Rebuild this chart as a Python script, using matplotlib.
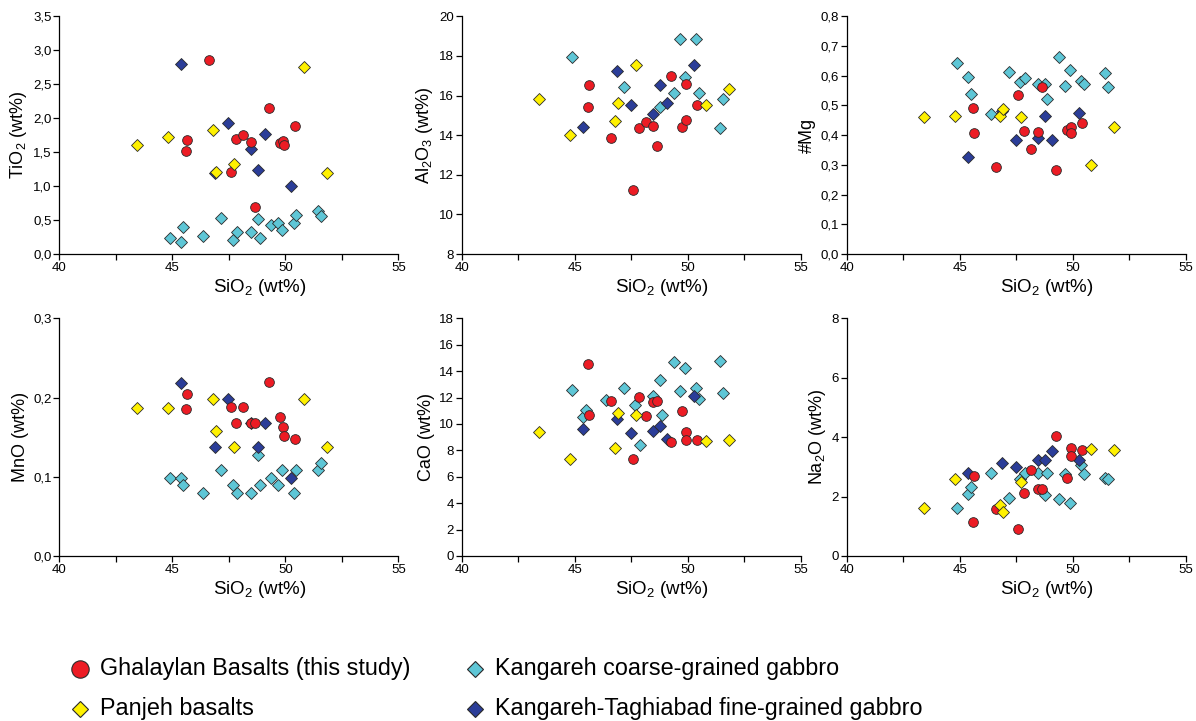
import numpy as np
import matplotlib.pyplot as plt
from matplotlib.lines import Line2D
from matplotlib.ticker import FuncFormatter, MultipleLocator

plt.rcParams['font.family'] = ['Liberation Sans', 'DejaVu Sans']
plt.rcParams['mathtext.default'] = 'regular'

nan = np.nan

# Ghalaylan basalts (this study)
gh_sio2 = [45.60, 45.65, 46.61, 47.58, 47.83, 48.15, 48.47, 48.66, 49.28, 49.76, 49.92, 49.93, 50.42]
gh_tio2 = [1.52, 1.68, 2.86, 1.21, 1.70, 1.75, 1.65, 0.69, 2.15, 1.63, 1.66, 1.61, 1.88]
gh_al2o3 = [15.42, 16.53, 13.85, 11.25, 14.34, 14.64, 14.44, 13.44, 16.98, 14.42, 16.58, 14.78, 15.52]
gh_mg = [0.491, 0.407, 0.292, 0.534, 0.415, 0.352, 0.412, 0.561, 0.282, 0.418, 0.426, 0.406, 0.440]
gh_mno = [0.185, 0.204, nan, 0.188, 0.168, 0.188, 0.168, 0.168, 0.220, 0.175, 0.163, 0.151, 0.148]
gh_cao = [14.55, 10.71, 11.72, 7.32, 12.07, 10.61, 11.67, 11.77, 8.61, 11.01, 9.42, 8.81, 8.79]
gh_na2o = [1.16, 2.70, 1.59, 0.91, 2.11, 2.88, 2.24, 2.24, 4.05, 2.64, 3.65, 3.36, 3.57]

# Panjeh basalts
pj_sio2 = [43.43, 44.80, 46.80, 46.92, 47.72, 50.83, 51.84]
pj_tio2 = [1.61, 1.73, 1.82, 1.21, 1.32, 2.75, 1.20]
pj_al2o3 = [15.82, 14.03, 14.73, 15.62, 17.54, 15.53, 16.33]
pj_mg = [0.461, 0.465, 0.466, 0.487, 0.462, 0.301, 0.426]
pj_mno = [0.187, 0.187, 0.198, 0.158, 0.138, 0.198, 0.138]
pj_cao = [9.42, 7.32, 8.21, 10.81, 10.68, 8.71, 8.79]
pj_na2o = [1.60, 2.58, 1.72, 1.48, 2.48, 3.60, 3.57]

# Kangareh coarse-grained gabbro
kc_sio2 = [44.90, 45.38, 45.48, 46.38, 47.17, 47.68, 47.88, 48.48, 48.78, 48.88,
           49.38, 49.68, 49.87, 50.37, 50.48, 51.45, 51.57]
kc_tio2 = [0.24, 0.17, 0.40, 0.26, 0.53, 0.21, 0.32, 0.32, 0.51, 0.24,
           0.42, 0.45, 0.35, 0.46, 0.58, 0.64, 0.56]
kc_al2o3 = [17.94, nan, nan, nan, 16.44, nan, nan, nan, 15.43, nan,
            16.14, 18.84, 16.95, 18.84, 16.14, 14.34, 15.84]
kc_mg = [0.644, 0.596, 0.538, 0.471, 0.612, 0.580, 0.592, 0.572, 0.572, 0.522,
         0.664, 0.564, 0.619, 0.581, 0.572, 0.610, 0.562]
kc_mno = [0.098, 0.098, 0.089, 0.079, 0.109, 0.089, 0.079, 0.079, 0.128, 0.089,
          0.098, 0.089, 0.109, 0.079, 0.109, 0.109, 0.118]
kc_cao = [12.58, 10.56, 11.06, 11.82, 12.70, 11.41, 8.43, 12.12, 13.33, 10.71,
          14.70, 12.50, 14.22, 12.70, 11.87, 14.77, 12.32]
kc_na2o = [1.60, 2.08, 2.33, 2.78, 1.96, 2.58, 2.78, 2.81, 2.05, 2.81,
           1.91, 2.75, 1.77, 3.05, 2.75, 2.64, 2.58]

# Kangareh-Taghiabad fine-grained gabbro
kt_sio2 = [45.38, 46.89, 47.48, 48.48, 48.78, 49.09, 50.27]
kt_tio2 = [2.80, 1.20, 1.93, 1.55, 1.23, 1.77, 1.00]
kt_al2o3 = [14.42, 17.24, 15.52, 15.05, 16.53, 15.62, 17.54]
kt_mg = [0.327, 0.480, 0.384, 0.392, 0.466, 0.384, 0.474]
kt_mno = [0.218, 0.138, 0.198, 0.168, 0.138, 0.168, 0.098]
kt_cao = [9.60, 10.40, 9.29, 9.47, 9.87, 8.89, 12.10]
kt_na2o = [2.78, 3.13, 2.99, 3.22, 3.22, 3.53, 3.23]

groups = [
    # label, marker, color, zorder, sio2, [tio2, al2o3, mg, mno, cao, na2o]
    ('Ghalaylan Basalts (this study)', 'o', '#ec1c24', 5, gh_sio2,
     [gh_tio2, gh_al2o3, gh_mg, gh_mno, gh_cao, gh_na2o]),
    ('Panjeh basalts', 'D', '#fff100', 6, pj_sio2,
     [pj_tio2, pj_al2o3, pj_mg, pj_mno, pj_cao, pj_na2o]),
    ('Kangareh coarse-grained gabbro', 'D', '#5ec6d6', 3, kc_sio2,
     [kc_tio2, kc_al2o3, kc_mg, kc_mno, kc_cao, kc_na2o]),
    ('Kangareh-Taghiabad fine-grained gabbro', 'D', '#2b3d98', 4, kt_sio2,
     [kt_tio2, kt_al2o3, kt_mg, kt_mno, kt_cao, kt_na2o]),
]

ylabels = ['TiO$_2$ (wt%)', 'Al$_2$O$_3$ (wt%)', '#Mg', 'MnO (wt%)', 'CaO (wt%)', 'Na$_2$O (wt%)']
ylims = [(0, 3.5), (8, 20), (0, 0.8), (0, 0.3), (0, 18), (0, 8)]
ysteps = [0.5, 2, 0.1, 0.1, 2, 2]
ydecimals = [1, 0, 1, 1, 0, 0]

W, H = 1196, 721
fig = plt.figure(figsize=(W / 100, H / 100), dpi=100)

lefts = [59.3, 461.7, 846.7]
tops = [16.3, 318.3]
aw, ah = 339, 237.7

for i in range(6):
    r, c = divmod(i, 3)
    ax = fig.add_axes([lefts[c] / W, 1 - (tops[r] + ah) / H, aw / W, ah / H])
    for label, mk, col, z, sio2, vals in groups:
        ms = 7.0 if mk == 'o' else 6.0
        ax.plot(sio2, vals[i], linestyle='none', marker=mk, ms=ms, mfc=col,
                mec='#2a2a2a', mew=0.6, zorder=z, clip_on=False)
    ax.set_xlim(40, 55)
    ax.set_ylim(*ylims[i])
    ax.xaxis.set_major_locator(MultipleLocator(5))
    ax.xaxis.set_minor_locator(MultipleLocator(2.5))
    ax.yaxis.set_major_locator(MultipleLocator(ysteps[i]))
    d = ydecimals[i]
    ax.yaxis.set_major_formatter(FuncFormatter(lambda v, p, d=d: f'{v:.{d}f}'.replace('.', ',')))
    ax.spines['top'].set_visible(False)
    ax.spines['right'].set_visible(False)
    for s in ('left', 'bottom'):
        ax.spines[s].set_linewidth(0.9)
    ax.tick_params(which='both', direction='out', length=4, width=0.9, labelsize=9.5, pad=1.5)
    ax.set_xlabel('SiO$_2$ (wt%)', fontsize=13.5)
    ax.xaxis.set_label_coords(0.59, -0.095)
    ax.set_ylabel(ylabels[i], fontsize=13, labelpad=3)

# legend, two columns placed by hand
legend_x = [80, 475]
legend_y = [669, 709]
for k, (label, mk, col, z, sio2, vals) in enumerate(groups):
    x = legend_x[k // 2]
    y = legend_y[k % 2]
    fig.add_artist(Line2D([x / W], [1 - y / H], transform=fig.transFigure, linestyle='none',
                          marker=mk, ms=12.5 if mk == 'o' else 7.8, mfc=col,
                          mec='#2a2a2a', mew=0.8))
    fig.text((x + 20) / W, 1 - y / H, label, fontsize=16.8, va='center', ha='left')

fig.savefig('out.png', dpi=100, facecolor='white')
